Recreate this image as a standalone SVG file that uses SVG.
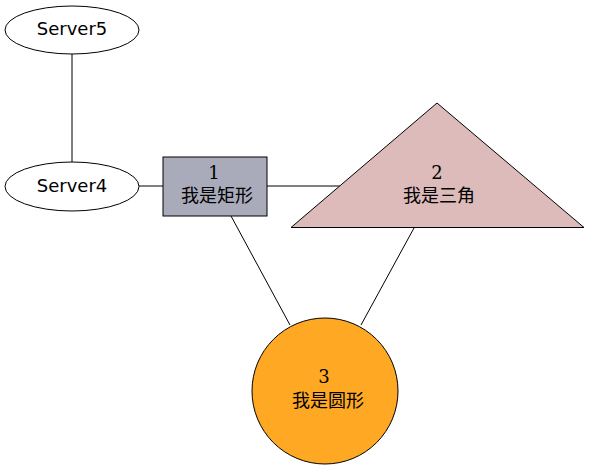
<svg xmlns="http://www.w3.org/2000/svg" width="589" height="469" viewBox="0 0 589 469">
<style>
.shape{stroke:#000;stroke-width:1}
.sv{font-family:"DejaVu Sans","Noto Sans",sans-serif;font-size:18px;text-anchor:middle}
.num{font-family:"DejaVu Serif","Liberation Serif",serif;font-size:18px;text-anchor:middle}
.cn{font-family:"Noto Sans CJK SC","DejaVu Sans",sans-serif;font-size:18px;text-anchor:middle}
.edge{stroke:#000;stroke-width:1;fill:none}
</style>
<rect width="589" height="469" fill="#fff"/>
<g id="edges">
<line class="edge" x1="72" y1="54" x2="72" y2="162"/>
<line class="edge" x1="139" y1="186" x2="163" y2="186"/>
<line class="edge" x1="267" y1="186" x2="340" y2="186"/>
<line class="edge" x1="231" y1="216" x2="290" y2="325"/>
<line class="edge" x1="414" y1="228" x2="361" y2="325"/>
</g>
<g id="server5">
<ellipse class="shape" cx="72" cy="30" rx="67" ry="24" fill="#fff"/>
<text class="sv" x="72" y="35">Server5</text>
</g>
<g id="server4">
<ellipse class="shape" cx="72" cy="186.5" rx="67" ry="24.5" fill="#fff"/>
<text class="sv" x="72" y="192">Server4</text>
</g>
<g id="node1">
<rect class="shape" x="163" y="157" width="104" height="59" fill="#a9abba"/>
<text class="num" x="214" y="179">1</text>
<text class="cn" x="217" y="202">我是矩形</text>
</g>
<g id="node2">
<polygon class="shape" points="437,103 291,227.5 584,227.5" fill="#dcbbba"/>
<text class="num" x="437" y="179">2</text>
<text class="cn" x="439" y="202">我是三角</text>
</g>
<g id="node3">
<circle class="shape" cx="325" cy="391" r="73" fill="#ffa824"/>
<text class="num" x="324" y="383">3</text>
<text class="cn" x="328" y="407">我是圆形</text>
</g>
</svg>
